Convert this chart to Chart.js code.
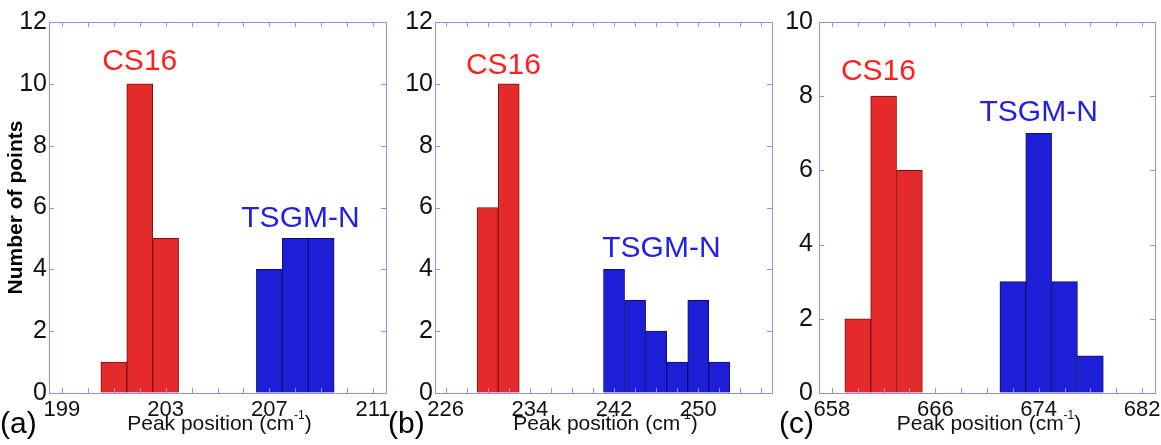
<!DOCTYPE html>
<html>
<head>
<meta charset="utf-8">
<script src="https://cdn.jsdelivr.net/npm/chart.js@4/dist/chart.umd.min.js"></script>
<style>
    body { margin: 0; background: #fff; width: 1161px; height: 445px; overflow: hidden; position: relative; }
    .panel { position: absolute; top: 0; height: 445px; }
</style>
</head>
<body>
<div class="panel" style="left:0;width:400px"><canvas id="chart-a"></canvas></div>
<div class="panel" style="left:385px;width:399px"><canvas id="chart-b"></canvas></div>
<div class="panel" style="left:770px;width:391px"><canvas id="chart-c"></canvas></div>
<script>
// (a) ~200 cm-1 band
const binsA_CS16 = [201, 202, 203];
const countsA_CS16 = [1, 10, 5];
const binsA_TSGM = [207, 208, 209];
const countsA_TSGM = [4, 5, 5];
const xRangeA = [198.5, 211.5];
const xTicksA = [199, 200, 201, 202, 203, 204, 205, 206, 207, 208, 209, 210, 211];
const xLabelsA = [199, 203, 207, 211];
const yMaxA = 12;

// (b) ~240 cm-1 band
const binsB_CS16 = [230, 232];
const countsB_CS16 = [6, 10];
const binsB_TSGM = [242, 244, 246, 248, 250, 252];
const countsB_TSGM = [4, 3, 2, 1, 3, 1];
const xRangeB = [225, 257];
const xTicksB = [226, 228, 230, 232, 234, 236, 238, 240, 242, 244, 246, 248, 250, 252, 254, 256];
const xLabelsB = [226, 234, 242, 250];
const yMaxB = 12;

// (c) ~670 cm-1 band
const binsC_CS16 = [660, 662, 664];
const countsC_CS16 = [2, 8, 6];
const binsC_TSGM = [672, 674, 676, 678];
const countsC_TSGM = [3, 7, 3, 1];
const xRangeC = [657, 683];
const xTicksC = [658, 660, 662, 664, 666, 668, 670, 672, 674, 676, 678, 680, 682];
const xLabelsC = [658, 666, 674, 682];
const yMaxC = 10;

const FONT = "'Liberation Sans', Arial, Helvetica, sans-serif";
const COLORS = {
    red: '#e42a2a',
    redEdge: '#7a1212',
    redText: '#ff1f1f',
    blue: '#1e1ed6',
    blueEdge: '#10106a',
    blueText: '#1f1fe6',
    axis: '#9090e8'
};

// text labels placed in data coords
const notesA = [
    { text: 'CS16', x: 202.0, y: 10.7, color: COLORS.redText },
    { text: 'TSGM-N', x: 208.2, y: 5.63, color: COLORS.blueText }
];
const notesB = [
    { text: 'CS16', x: 231.5, y: 10.6, color: COLORS.redText },
    { text: 'TSGM-N', x: 246.5, y: 4.66, color: COLORS.blueText }
];
const notesC = [
    { text: 'CS16', x: 661.6, y: 8.65, color: COLORS.redText },
    { text: 'TSGM-N', x: 674.0, y: 7.56, color: COLORS.blueText }
];

const panelText = {
    id: 'panelText',
    afterDraw(chart, args, opts) {
        const ctx = chart.ctx;
        const { x, y } = chart.scales;
        const area = chart.chartArea;
        ctx.save();

        // inward tick marks on all four sides (matlab box style)
        ctx.strokeStyle = COLORS.axis;
        ctx.lineWidth = 1;
        ctx.beginPath();
        x.ticks.forEach(t => {
            const px = Math.round(x.getPixelForValue(t.value)) + 0.5;
            ctx.moveTo(px, area.bottom); ctx.lineTo(px, area.bottom - 5);
            ctx.moveTo(px, area.top); ctx.lineTo(px, area.top + 5);
        });
        y.ticks.forEach(t => {
            const py = Math.round(y.getPixelForValue(t.value)) + 0.5;
            ctx.moveTo(area.left, py); ctx.lineTo(area.left + 5, py);
            ctx.moveTo(area.right, py); ctx.lineTo(area.right - 5, py);
        });
        ctx.stroke();

        ctx.textAlign = 'center';
        ctx.textBaseline = 'middle';
        ctx.font = '30px ' + FONT;
        opts.notes.forEach(n => {
            ctx.fillStyle = n.color;
            ctx.fillText(n.text, x.getPixelForValue(n.x), y.getPixelForValue(n.y));
        });

        // x title with superscript -1
        ctx.fillStyle = '#111';
        ctx.textAlign = 'left';
        const main = 'Peak position (cm';
        ctx.font = '21px ' + FONT;
        const w1 = ctx.measureText(main).width;
        const w3 = ctx.measureText(')').width;
        ctx.font = '12px ' + FONT;
        const w2 = ctx.measureText('-1').width;
        let tx = (area.left + area.right) / 2 + 2 - (w1 + w2 + w3) / 2;
        ctx.font = '21px ' + FONT;
        ctx.fillText(main, tx, 424);
        ctx.font = '12px ' + FONT;
        ctx.fillText('-1', tx + w1, 416);
        ctx.font = '21px ' + FONT;
        ctx.fillText(')', tx + w1 + w2, 424);

        ctx.font = '30px ' + FONT;
        ctx.fillStyle = '#000';
        ctx.fillText(opts.letter, area.left - opts.letterGap, 425);
        ctx.restore();
    }
};

function makePanel(id, p) {
    const ctx = document.getElementById(id).getContext('2d');
    const tickList = s => { s.ticks = p.xTicks.map(v => ({ value: v })); };
    const gridOpts = { display: true, drawOnChartArea: false, drawTicks: false, offset: false, color: COLORS.axis };
    const borderOpts = { display: true, color: COLORS.axis, width: 1 };

    return new Chart(ctx, {
        type: 'bar',
        data: {
            datasets: [
                {
                    label: 'CS16',
                    data: p.cs16Bins.map((b, i) => ({ x: b, y: p.cs16Counts[i] })),
                    backgroundColor: COLORS.red,
                    borderColor: COLORS.redEdge,
                    borderWidth: 1,
                    grouped: false,
                    barPercentage: 1,
                    categoryPercentage: 1
                },
                {
                    label: 'TSGM-N',
                    data: p.tsgmBins.map((b, i) => ({ x: b, y: p.tsgmCounts[i] })),
                    backgroundColor: COLORS.blue,
                    borderColor: COLORS.blueEdge,
                    borderWidth: 1,
                    grouped: false,
                    barPercentage: 1,
                    categoryPercentage: 1
                }
            ]
        },
        options: {
            responsive: true,
            maintainAspectRatio: false,
            animation: false,
            layout: { padding: { top: 22, right: p.padRight, left: 0, bottom: 0 } },
            plugins: {
                legend: { display: false },
                tooltip: { enabled: false },
                panelText: { notes: p.notes, letter: p.letter, letterGap: p.letterGap }
            },
            scales: {
                x: {
                    type: 'linear',
                    position: 'bottom',
                    offset: false,
                    min: p.xRange[0],
                    max: p.xRange[1],
                    afterBuildTicks: tickList,
                    afterFit: s => { s.height = 52; s.paddingLeft = 0; s.paddingRight = 0; },
                    ticks: {
                        color: '#111',
                        font: { family: FONT, size: 22 },
                        padding: 4,
                        maxRotation: 0,
                        autoSkip: false,
                        callback: v => p.xLabels.includes(v) ? String(v) : ''
                    },
                    grid: gridOpts,
                    border: borderOpts
                },
                x2: {
                    type: 'linear',
                    position: 'top',
                    offset: false,
                    min: p.xRange[0],
                    max: p.xRange[1],
                    afterFit: s => { s.height = 0; s.paddingLeft = 0; s.paddingRight = 0; },
                    ticks: { display: false },
                    grid: gridOpts,
                    border: borderOpts
                },
                y: {
                    position: 'left',
                    min: 0,
                    max: p.yMax,
                    afterFit: s => { s.width = p.yWidth; s.paddingTop = 0; s.paddingBottom = 0; },
                    ticks: {
                        stepSize: 2,
                        color: '#111',
                        font: { family: FONT, size: 25 },
                        padding: p.yPad
                    },
                    title: {
                        display: p.yTitle,
                        text: 'Number of points',
                        color: '#000',
                        font: { family: FONT, size: 21, weight: 'bold' },
                        padding: { top: 4, bottom: 0 }
                    },
                    grid: gridOpts,
                    border: borderOpts
                },
                y2: {
                    position: 'right',
                    min: 0,
                    max: p.yMax,
                    afterFit: s => { s.width = 0; s.paddingTop = 0; s.paddingBottom = 0; },
                    ticks: { display: false },
                    grid: gridOpts,
                    border: borderOpts
                }
            }
        },
        plugins: [panelText]
    });
}

makePanel('chart-a', {
    cs16Bins: binsA_CS16, cs16Counts: countsA_CS16,
    tsgmBins: binsA_TSGM, tsgmCounts: countsA_TSGM,
    xRange: xRangeA, xTicks: xTicksA, xLabels: xLabelsA, yMax: yMaxA,
    notes: notesA, letter: '(a)', letterGap: 49,
    yWidth: 49, yPad: 2, padRight: 14, yTitle: true
});
makePanel('chart-b', {
    cs16Bins: binsB_CS16, cs16Counts: countsB_CS16,
    tsgmBins: binsB_TSGM, tsgmCounts: countsB_TSGM,
    xRange: xRangeB, xTicks: xTicksB, xLabels: xLabelsB, yMax: yMaxB,
    notes: notesB, letter: '(b)', letterGap: 47,
    yWidth: 50, yPad: 2, padRight: 12, yTitle: false
});
makePanel('chart-c', {
    cs16Bins: binsC_CS16, cs16Counts: countsC_CS16,
    tsgmBins: binsC_TSGM, tsgmCounts: countsC_TSGM,
    xRange: xRangeC, xTicks: xTicksC, xLabels: xLabelsC, yMax: yMaxC,
    notes: notesC, letter: '(c)', letterGap: 40,
    yWidth: 49, yPad: 6, padRight: 6, yTitle: false
});
</script>
</body>
</html>
